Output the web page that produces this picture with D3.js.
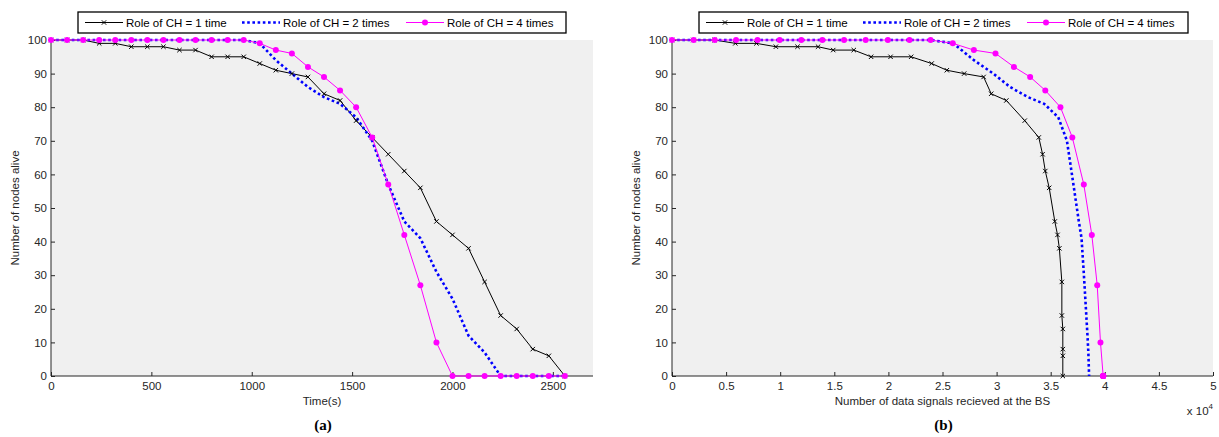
<!DOCTYPE html>
<html><head><meta charset="utf-8">
<script src="https://cdn.jsdelivr.net/npm/d3@7"></script>
<style>
html,body{margin:0;padding:0;background:#fff;}
svg{display:block;font-family:"Liberation Sans",Arial,Helvetica,sans-serif;}
</style></head>
<body>
<svg id="chart" width="1219" height="437"></svg>
<script>
// ---------- DATA ----------
const seriesNames = ["Role of CH = 1 time", "Role of CH = 2 times", "Role of CH = 4 times"];
// time axis (s), one sample every 80 s
const timeS = [0,80,160,240,320,400,480,560,640,720,800,880,960,1040,1120,1200,1280,1360,1440,1520,1600,1680,1760,1840,1920,2000,2080,2160,2240,2320,2400,2480,2560];
// nodes alive
const alive1 = [100,100,100,99,99,98,98,98,97,97,95,95,95,93,91,90,89,84,82,76,71,66,61,56,46,42,38,28,18,14,8,6,0];
const alive2 = [100,100,100,100,100,100,100,100,100,100,100,100,100,99,94,90,86,83,81,77,70,57,46,41,31,23,12,7,0,0,0,0,0];
const alive4 = [100,100,100,100,100,100,100,100,100,100,100,100,100,99,97,96,92,89,85,80,71,57,42,27,10,0,0,0,0,0,0,0,0];
// data signals received at the BS (cumulative)
const signals1 = [0,1970,3950,5850,7800,9600,11600,13500,14900,16800,18400,20200,22100,24000,25400,27000,28800,29500,30900,32600,33900,34250,34500,34860,35380,35630,35800,36030,36030,36120,36120,36120,36120];
const signals2 = [0,2000,3950,5920,7900,9950,11950,13900,15900,17900,19950,21950,23900,26000,27900,29700,31250,32900,34400,35700,36500,37100,37600,37850,38050,38200,38400,38480,38550,38550,38550,38550,38550];
const signals4 = [0,2000,3950,5920,7900,9950,11950,13900,15900,17900,19950,21950,23900,25950,27900,29900,31600,33100,34500,35900,37000,38060,38800,39300,39600,39850,39850,39850,39850,39850,39850,39850,39850];
// ticks
const yTicks = [0,10,20,30,40,50,60,70,80,90,100];
const timeTicks = [0,500,1000,1500,2000,2500];
const signalTicks = [0,5000,10000,15000,20000,25000,30000,35000,40000,45000,50000];
const signalTickLabels = ["0","0.5","1","1.5","2","2.5","3","3.5","4","4.5","5"];

// ---------- DRAW ----------
const svg = d3.select("#chart");
const colors = ["#000000", "#0000ff", "#ff00ff"];

function panel(opt) {
  const g = svg.append("g");
  const x = d3.scaleLinear().domain(opt.xDomain).range([opt.left, opt.right]);
  const y = d3.scaleLinear().domain([0, 100]).range([376, 40]);
  g.append("rect").attr("x", opt.left).attr("y", 40)
    .attr("width", opt.right - opt.left).attr("height", 336).attr("fill", "#f0f0f0");

  // axes (MATLAB style: ticks inward)
  const xAxis = d3.axisBottom(x).tickValues(opt.xTicks).tickSize(-4).tickPadding(8)
    .tickFormat((d, i) => opt.xTickLabels ? opt.xTickLabels[i] : d);
  const gx = g.append("g").attr("transform", "translate(0,376)").call(xAxis);
  const yAxis = d3.axisLeft(y).tickValues(yTicks).tickSize(-4).tickPadding(8);
  const gy = g.append("g").attr("transform", `translate(${opt.left},0)`).call(yAxis);
  [gx, gy].forEach(a => {
    a.select(".domain").attr("stroke", "#262626").attr("stroke-width", 1);
    a.selectAll(".tick line").attr("stroke", "#262626");
    a.selectAll("text").attr("fill", "#262626").style("font-size", "11.5px")
      .style("font-family", '"Liberation Sans",Arial,sans-serif');
  });
  gy.select(".domain").attr("d", `M0,376V40`);
  gx.select(".domain").attr("d", `M${opt.left},0H${opt.right}`);
  gy.selectAll(".tick text").attr("dx", "4px");
  gx.selectAll(".tick text").attr("dy", "0.5em");

  const xs = opt.xs;
  const ys = [alive1, alive2, alive4];
  const line = d3.line().x(d => x(d[0])).y(d => y(d[1]));
  const pts = ys.map((arr, k) => arr.map((v, i) => [xs[k][i], v]));

  // black line
  g.append("path").datum(pts[0]).attr("d", line).attr("fill", "none")
    .attr("stroke", colors[0]).attr("stroke-width", 1);
  // blue dotted
  g.append("path").datum(pts[1]).attr("d", line).attr("fill", "none")
    .attr("stroke", colors[1]).attr("stroke-width", 2.6).attr("stroke-dasharray", "2.6,2.6");
  // magenta
  g.append("path").datum(pts[2]).attr("d", line).attr("fill", "none")
    .attr("stroke", colors[2]).attr("stroke-width", 1);

  // x markers
  g.selectAll(".xm").data(pts[0]).enter().append("path")
    .attr("d", d => { const cx = x(d[0]), cy = y(d[1]), s = 2.2;
      return `M${cx-s},${cy-s}L${cx+s},${cy+s}M${cx-s},${cy+s}L${cx+s},${cy-s}`; })
    .attr("stroke", colors[0]).attr("stroke-width", 1).attr("fill", "none");
  // circle markers
  g.selectAll(".cm").data(pts[2]).enter().append("circle")
    .attr("cx", d => x(d[0])).attr("cy", d => y(d[1])).attr("r", 3)
    .attr("fill", colors[2]);

  // axis labels
  g.append("text").attr("x", (opt.left + opt.right) / 2).attr("y", 405)
    .attr("text-anchor", "middle").style("font-size", "11.5px").attr("fill", "#262626")
    .text(opt.xLabel);
  g.append("text").attr("transform", `translate(${opt.yLabelX},208) rotate(-90)`)
    .attr("text-anchor", "middle").style("font-size", "11.5px").attr("fill", "#262626")
    .text("Number of nodes alive");
  g.append("text").attr("x", (opt.left + opt.right) / 2 + 1).attr("y", 430)
    .attr("text-anchor", "middle").style("font-family", '"Liberation Serif","Times New Roman",serif')
    .style("font-weight", "bold").style("font-size", "15px").attr("fill", "#000")
    .text(opt.caption);

  // legend
  const lg = g.append("g").attr("transform", `translate(${opt.legendX},12)`);
  lg.append("rect").attr("x", 0).attr("y", 0).attr("width", opt.legendW).attr("height", 21)
    .attr("fill", "#fff").attr("stroke", "#000").attr("stroke-width", 1.3);
  const offs = [7, 164, 328];
  seriesNames.forEach((name, k) => {
    const x0 = offs[k], x1 = x0 + 38, cy = 10.5;
    const ln = lg.append("line").attr("x1", x0).attr("x2", x1).attr("y1", cy).attr("y2", cy)
      .attr("stroke", colors[k]);
    if (k === 1) ln.attr("stroke-width", 2.6).attr("stroke-dasharray", "2.6,2.6");
    else ln.attr("stroke-width", 1);
    const mx = (x0 + x1) / 2;
    if (k === 0) lg.append("path").attr("d", `M${mx-2.2},${cy-2.2}L${mx+2.2},${cy+2.2}M${mx-2.2},${cy+2.2}L${mx+2.2},${cy-2.2}`)
      .attr("stroke", "#000").attr("stroke-width", 1);
    if (k === 2) lg.append("circle").attr("cx", mx).attr("cy", cy).attr("r", 3).attr("fill", colors[2]);
    lg.append("text").attr("x", x1 + 3).attr("y", cy + 4.2).style("font-size", "11.5px")
      .attr("fill", "#000").text(name);
  });
  return g;
}

panel({ left: 51, right: 593, xDomain: [0, 2700], xTicks: timeTicks,
  xs: [timeS, timeS, timeS], xLabel: "Time(s)", yLabelX: 18.5, caption: "(a)",
  legendX: 78, legendW: 488 });
const pb = panel({ left: 672, right: 1213, xDomain: [0, 50000], xTicks: signalTicks, xTickLabels: signalTickLabels,
  xs: [signals1, signals2, signals4], xLabel: "Number of data signals recieved at the BS", yLabelX: 640, caption: "(b)",
  legendX: 699, legendW: 489 });
// exponent label
const ex = pb.append("text").attr("x", 1213).attr("y", 415).attr("text-anchor", "end")
  .style("font-size", "11.5px").attr("fill", "#262626");
ex.append("tspan").text("x 10");
ex.append("tspan").attr("dy", "-6").style("font-size", "8px").text("4");
</script>
</body></html>
